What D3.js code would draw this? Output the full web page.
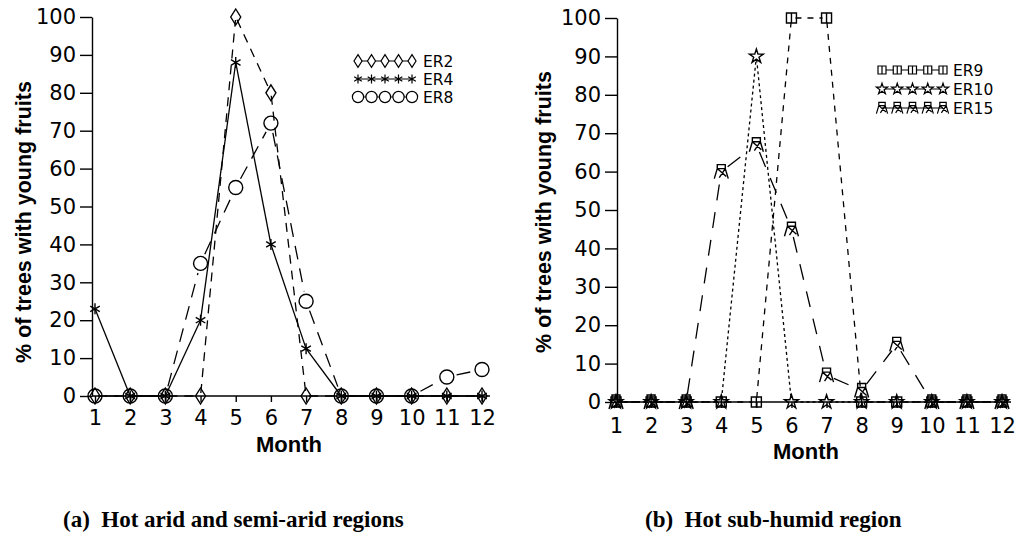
<!DOCTYPE html>
<html>
<head>
<meta charset="utf-8">
<script src="https://d3js.org/d3.v7.min.js"></script>
<style>
body{margin:0;background:#fff}
svg{display:block}
text{fill:#000}
</style>
</head>
<body>
<svg id="chart"></svg>
<script>
// data
var months=[1,2,3,4,5,6,7,8,9,10,11,12];
var yTicks=[0,10,20,30,40,50,60,70,80,90,100];

var er2 =[0,0,0,0,100,80,0,0,0,0,0,0];
var er4 =[23,0,0,20,88,40,12.5,0,0,0,0,0];
var er8 =[0,0,0,35,55,72,25,0,0,0,5,7];

var er9 =[0,0,0,0,0,100,100,0,0,0,0,0];
var er10=[0,0,0,0,90,0,0,0,0,0,0,0];
var er15=[0,0,0,60,67,45,7,3,15,0,0,0];

var yTitle="% of trees with young fruits";
var xTitle="Month";
var captionA="(a)  Hot arid and semi-arid regions";
var captionB="(b)  Hot sub-humid region";

var tickFont='"DejaVu Sans",sans-serif';
var boldFont='"Liberation Sans",Arial,sans-serif';

var svg=d3.select("#chart").attr("width",1017).attr("height",540);

// marker shapes, centred on 0,0
var markers={
  diamond:"M0,-8L5,0L0,8L-5,0Z",
  asterisk:"M0,-5.5V5.5M-4.8,-2.8L4.8,2.8M4.8,-2.8L-4.8,2.8",
  circle:"M7,0A7,7 0 1,1 -7,0A7,7 0 1,1 7,0Z",
  square:"M-5,-5H5V5H-5ZM0,-5V5",
  star:d3.symbol(d3.symbolStar).size(60)(),
  tent:"M-4,-7H4V-3H-4ZM-4,-3L-7,7M4,-3L7,7M-4,-3L5,5M4,-3L-2,6"
};

function drawPanel(p){
  var x=d3.scaleLinear().domain([1,12]).range([p.x1,p.x12]);
  var y=d3.scaleLinear().domain([0,100]).range([p.y0,p.y100]);
  var g=svg.append("g");

  var ya=g.append("g").attr("transform","translate("+p.ax+",0)")
    .call(d3.axisLeft(y).tickValues(yTicks).tickSize(12).tickPadding(4).tickSizeOuter(0));
  ya.selectAll("text").style("font-family",tickFont).style("font-size","21px").attr("fill","#000");

  var xa=g.append("g").attr("transform","translate(0,"+p.y0+")")
    .call(d3.axisBottom(x).tickValues(months).tickSize(6).tickPadding(p.xpad).tickSizeOuter(0));
  xa.select(".domain").remove();
  xa.selectAll("text").style("font-family",tickFont).style("font-size","21px").attr("fill","#000");
  g.selectAll(".tick line,.domain").attr("stroke","#000").attr("stroke-width",1.4);
  g.append("line").attr("x1",p.ax).attr("x2",p.xEnd).attr("y1",p.y0).attr("y2",p.y0)
    .attr("stroke","#000").attr("stroke-width",1.6);

  p.series.forEach(function(s){
    var pts=months.map(function(m,i){return [x(m),y(s.values[i])];});
    for(var i=0;i<pts.length-1;i++){
      var a=pts[i],b=pts[i+1];
      var dx=b[0]-a[0],dy=b[1]-a[1],len=Math.sqrt(dx*dx+dy*dy);
      var gap=(len>2*s.gap+4)?s.gap:0;
      g.append("line")
        .attr("x1",a[0]+dx/len*gap).attr("y1",a[1]+dy/len*gap)
        .attr("x2",b[0]-dx/len*gap).attr("y2",b[1]-dy/len*gap)
        .attr("stroke","#000").attr("stroke-width",1.3)
        .attr("stroke-dasharray",s.dash);
    }
    g.selectAll(null).data(pts).enter().append("path")
      .attr("transform",function(d){return "translate("+d[0]+","+d[1]+")";})
      .attr("d",markers[s.marker])
      .attr("fill","none").attr("stroke","#000").attr("stroke-width",1.4);
  });

  // legend: five overlapping markers on a line, then the name
  p.series.forEach(function(s,i){
    var ly=p.legY[i];
    var lx=d3.scaleLinear().domain([0,4]).range([p.legX0,p.legX1]);
    g.append("line").attr("x1",lx(0)).attr("x2",lx(4)).attr("y1",ly).attr("y2",ly)
      .attr("stroke","#000").attr("stroke-width",1.2);
    g.selectAll(null).data([0,1,2,3,4]).enter().append("path")
      .attr("transform",function(d){return "translate("+lx(d)+","+ly+") scale(0.8)";})
      .attr("d",markers[s.marker])
      .attr("fill","#fff").attr("stroke","#000").attr("stroke-width",1.5);
    g.append("text").attr("x",p.legText).attr("y",ly+5.5)
      .style("font-family",tickFont).style("font-size","15.5px").text(s.name);
  });

  g.append("text").attr("transform","translate("+p.yTitleX+","+p.yTitleY+") rotate(-90)")
    .attr("text-anchor","middle").style("font-family",boldFont).style("font-weight","bold")
    .style("font-size","21.5px").text(yTitle);
  g.append("text").attr("x",p.xTitleX).attr("y",p.xTitleY).attr("text-anchor","middle")
    .style("font-family",boldFont).style("font-weight","bold").style("font-size","22px").text(xTitle);
  g.append("text").attr("x",p.capX).attr("y",527).attr("xml:space","preserve").style("white-space","pre")
    .style("font-family",'"Liberation Serif","Times New Roman",serif').style("font-weight","bold")
    .style("font-size","23px").text(p.caption);
}

drawPanel({
  ax:92,x1:95,x12:482,xEnd:490,y0:396,y100:17,xpad:8,
  legX0:358,legX1:412,legY:[61,79,97],legText:423,
  yTitleX:31,yTitleY:222,xTitleX:289,xTitleY:452,capX:63,caption:captionA,
  series:[
    {name:"ER2",values:er2,marker:"diamond",dash:"9,7",gap:3},
    {name:"ER4",values:er4,marker:"asterisk",dash:null,gap:0},
    {name:"ER8",values:er8,marker:"circle",dash:"14,9",gap:10}
  ]
});

drawPanel({
  ax:617,x1:616,x12:1002,xEnd:1011,y0:402,y100:18,xpad:10,
  legX0:882,legX1:943,legY:[70,89,108],legText:953,
  yTitleX:551,yTitleY:212,xTitleX:806,xTitleY:459,capX:645,caption:captionB,
  series:[
    {name:"ER9",values:er9,marker:"square",dash:"6,6",gap:4},
    {name:"ER10",values:er10,marker:"star",dash:"3,3",gap:3},
    {name:"ER15",values:er15,marker:"tent",dash:"16,12",gap:8}
  ]
});
</script>
</body>
</html>
